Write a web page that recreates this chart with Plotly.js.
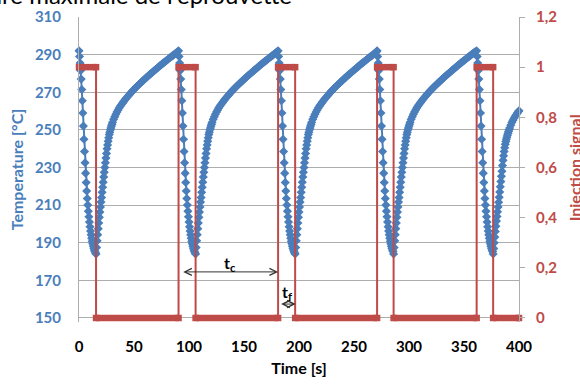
<!DOCTYPE html>
<html><head><meta charset="utf-8">
<script src="https://cdn.plot.ly/plotly-3.0.1.min.js"></script>
<style>html,body{margin:0;padding:0;background:#fff;}#chart{width:580px;height:385px;}</style>
</head><body><div id="chart"></div>
<script>
// ---- data ----
const cycleStart   = [0, 90.5, 181, 271, 361.5];      // injection on (temperature peak), s
const injectionEnd = [15.5, 106, 196.5, 286, 376.5];  // injection off (temperature minimum), s
const timeEnd = 400;
const signalOn = 1, signalOff = 0;

// cooling while injecting: time after injection start (s) and temperature (°C)
const coolTau  = [0,0.5,1,1.5,2,2.5,3,3.5,4,4.5,5,5.5,6,6.5,7,7.5,8,8.5,9,9.5,10,10.5,11,11.5,12,12.5,13,13.5,14,14.5,15];
const coolTemp = [292,289,285.5,281.5,277,271.5,265.5,259,252,245,238.5,232.5,227,222,217.5,213.5,210,206.8,203.8,201,198.5,196.2,194.2,192.4,190.8,189.4,188.2,187.1,186.1,185.3,184.6];

// heating after injection stops: time after injection end (s) and temperature (°C)
const heatDelta = [0,0.5,1,1.5,2,2.5,3,3.5,4,4.5,5,5.5,6,6.5,7,7.5,8,8.5,9,9.5,10,10.5,11,11.5,12,12.5,13,13.5,14,14.5,15,
  16,17,18,19,20,21,22,23,24,25,26,27,28,29,30,31,32,33,34,35,36,37,38,39,40,41,42,43,44,45,
  46,47,48,49,50,51,52,53,54,55,56,57,58,59,60,61,62,63,64,65,66,67,68,69,70,71,72,73,74];
const heatTemp = [184,187.5,191,194.3,197.5,200.5,203.5,206.3,209,211.6,214,216.8,219.5,222.2,225,227.5,230,232.5,235,237.5,240,242,244,245.8,247.5,248.8,250,251,252,253,254,
  255.6,257,258.3,259.5,260.6,261.6,262.5,263.4,264.2,265,265.8,266.5,267.2,267.9,268.6,269.3,269.9,270.6,271.2,271.8,272.4,273,273.6,274.1,274.7,275.2,275.8,276.3,276.9,277.4,
  277.9,278.5,279,279.5,280,280.5,281,281.5,282,282.5,283,283.5,284,284.5,285,285.5,285.9,286.4,286.9,287.3,287.8,288.3,288.7,289.2,289.6,290.1,290.6,291,291.5];

// last (incomplete) heating phase
const lastHeatDelta = [0,0.5,1,1.5,2,2.5,3,3.5,4,4.5,5,5.5,6,6.5,7,7.5,8,8.5,9,9.5,10,10.5,11,11.5,12,12.5,13,13.5,14,14.5,15,16,17,18,19,20,21,22,23,23.5];
const lastHeatTemp  = [184,187,190,193,196,198.8,201.5,204,206.5,209,211.5,214.2,217,219.8,222.5,225.3,228,231,233.8,236.2,238.5,240.5,242.3,243.8,245,246.1,247.2,248.2,249.2,250.1,251,252.5,253.9,255.1,256.2,257.2,258.1,259,259.8,260.2];

const xTicks = [0,50,100,150,200,250,300,350,400];
const tempTicks = [150,170,190,210,230,250,270,290,310];
const signalTicks = [0,0.2,0.4,0.6,0.8,1,1.2];
const signalTickText = ['0','0,2','0,4','0,6','0,8','1','1,2'];

// ---- build traces ----
const tx = [], ty = [];
for (let i = 0; i < cycleStart.length; i++) {
  coolTau.forEach((tau, k) => {
    const t = cycleStart[i] + tau;
    if (t < injectionEnd[i]) { tx.push(t); ty.push(coolTemp[k]); }
  });
  const last = i === cycleStart.length - 1;
  const dArr = last ? lastHeatDelta : heatDelta;
  const vArr = last ? lastHeatTemp : heatTemp;
  const limit = last ? timeEnd : cycleStart[i + 1];
  dArr.forEach((d, k) => {
    const t = injectionEnd[i] + d;
    if (last ? t <= limit : t < limit) { tx.push(t); ty.push(vArr[k]); }
  });
}

// injection signal: thin step line + thick level segments with square ends
const sx = [], sy = [];
const bx = [], by = [];
for (let i = 0; i < cycleStart.length; i++) {
  if (i > 0) { sx.push(cycleStart[i]); sy.push(signalOff); }
  sx.push(cycleStart[i], injectionEnd[i], injectionEnd[i]);
  sy.push(signalOn, signalOn, signalOff);
  const nextT = i < cycleStart.length - 1 ? cycleStart[i + 1] : timeEnd;
  bx.push(cycleStart[i], injectionEnd[i], null, injectionEnd[i], nextT, null);
  by.push(signalOn, signalOn, null, signalOff, signalOff, null);
}
sx.push(timeEnd); sy.push(signalOff);

const BLUE = '#4A7EBB', RED = '#BE4B48', GRID = '#ADADAD';
const FONT = 'Lato, "Open Sans", sans-serif';
const BAR_PX = 6.5;

// plot area: temperature 310 at the top, 150 a few px above the bottom so
// that the thick "0" level of the injection signal is not clipped
const TEMP_RANGE = [147.87, 310];
const SIGNAL_RANGE = [-0.016, 1.2];

const traces = [
  { x: tx, y: ty, type: 'scatter', mode: 'lines+markers', cliponaxis: false,
    line: { color: BLUE, width: 2 }, marker: { symbol: 'diamond', size: 7, color: BLUE },
    name: 'Temperature', hoverinfo: 'skip' },
  { x: sx, y: sy, yaxis: 'y2', type: 'scatter', mode: 'lines', cliponaxis: false,
    line: { color: RED, width: 2 }, name: 'Injection signal' },
  { x: bx, y: by, yaxis: 'y2', type: 'scatter', mode: 'lines+markers', cliponaxis: false,
    connectgaps: false, line: { color: RED, width: BAR_PX },
    marker: { symbol: 'square', size: BAR_PX, color: RED }, name: 'Injection levels' }
];

const layout = {
  width: 580, height: 385,
  margin: { l: 79, r: 61, t: 17, b: 63 },
  paper_bgcolor: '#fff', plot_bgcolor: '#fff',
  showlegend: false,
  font: { family: FONT },
  title: { text: "Température maximale de l'éprouvette", font: { family: FONT, size: 24, color: '#000' },
    xref: 'container', x: 292 / 580, xanchor: 'right', yref: 'container', y: 1 - 4 / 385, yanchor: 'bottom', automargin: false },
  xaxis: {
    range: [0, 400], tickvals: xTicks, ticktext: xTicks.map(String),
    showgrid: false, zeroline: false, ticks: '', ticklabelstandoff: 14,
    showline: false,
    tickfont: { family: FONT, size: 15, color: '#000', weight: 'bold' },
    title: { text: '<b>Time [s]</b>', font: { family: FONT, size: 16, color: '#000' }, standoff: 8 },
    automargin: false
  },
  yaxis: {
    range: TEMP_RANGE, tickvals: tempTicks, ticktext: tempTicks.map(String),
    showgrid: true, gridcolor: GRID, gridwidth: 1, zeroline: false, ticks: '', ticklabelstandoff: 14,
    showline: true, linecolor: GRID, linewidth: 1,
    tickfont: { family: FONT, size: 15, color: BLUE, weight: 'bold' },
    title: { text: '<b>Temperature [°C]</b>', font: { family: FONT, size: 16, color: BLUE }, standoff: 7 },
    automargin: false
  },
  yaxis2: {
    range: SIGNAL_RANGE, overlaying: 'y', side: 'right',
    tickvals: signalTicks, ticktext: signalTickText,
    showgrid: false, zeroline: false, ticks: 'outside', ticklen: 5, tickcolor: GRID, ticklabelstandoff: 8,
    showline: true, linecolor: GRID, linewidth: 1,
    tickfont: { family: FONT, size: 15, color: RED, weight: 'bold' },
    automargin: false
  },
  annotations: [
    { xref: 'paper', yref: 'paper', x: 1.127, y: (0.6 - SIGNAL_RANGE[0]) / (SIGNAL_RANGE[1] - SIGNAL_RANGE[0]),
      text: '<b>Injection signal</b>', textangle: -90, showarrow: false,
      xanchor: 'center', yanchor: 'middle', font: { family: FONT, size: 16, color: RED } },
    { xref: 'x', yref: 'y', axref: 'x', ayref: 'y', x: 181, y: 174.5, ax: 92, ay: 174.5,
      showarrow: true, arrowhead: 5, startarrowhead: 5, arrowside: 'end+start', arrowsize: 1.4, startarrowsize: 1.4,
      arrowwidth: 1, arrowcolor: '#333', text: ' ' },
    { xref: 'x', yref: 'y', x: 137, y: 178.8, text: '<b>t<sub>c</sub></b>', showarrow: false,
      font: { family: FONT, size: 16, color: '#000' } },
    { xref: 'x', yref: 'y', axref: 'x', ayref: 'y', x: 197, y: 157.4, ax: 181, ay: 157.4,
      showarrow: true, arrowhead: 5, startarrowhead: 5, arrowside: 'end+start', arrowsize: 1.4, startarrowsize: 1.4,
      arrowwidth: 1, arrowcolor: '#333', text: ' ' },
    { xref: 'x', yref: 'y', x: 189, y: 163.8, text: '<b>t<sub>f</sub></b>', showarrow: false,
      font: { family: FONT, size: 16, color: '#000' } }
  ]
};

Plotly.newPlot('chart', traces, layout, { staticPlot: true, displayModeBar: false });
</script>
</body></html>
